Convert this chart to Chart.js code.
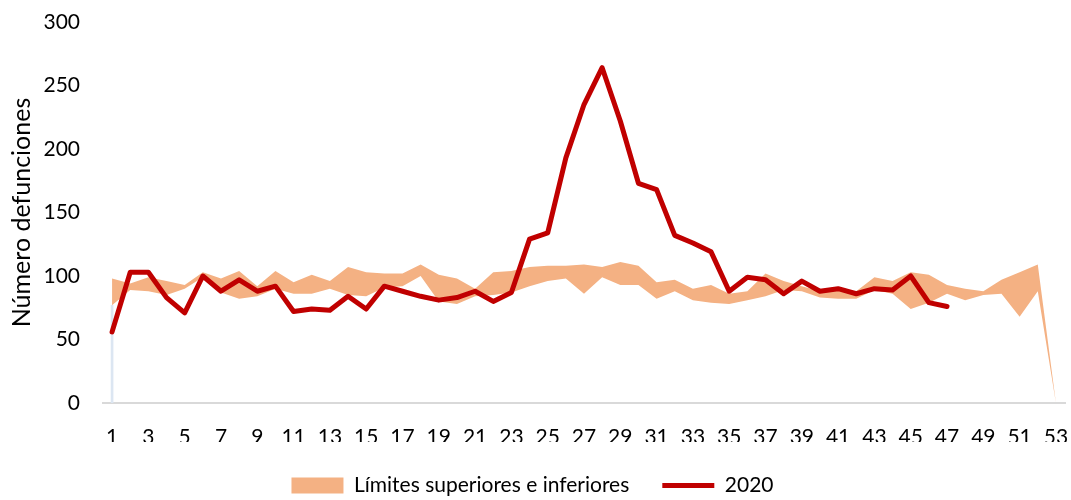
<!DOCTYPE html>
<html>
<head>
<meta charset="utf-8">
<script src="https://cdn.jsdelivr.net/npm/chart.js@4/dist/chart.umd.min.js"></script>
<style>
  html, body { margin: 0; padding: 0; background: #ffffff; }
  #wrap { width: 1071px; height: 500px; position: relative; }
</style>
</head>
<body>
<div id="wrap"><canvas id="c" width="1071" height="500"></canvas></div>
<script>
// ---- Data ----
const weeks = ['1','2','3','4','5','6','7','8','9','10','11','12','13','14','15','16','17','18','19','20',
  '21','22','23','24','25','26','27','28','29','30','31','32','33','34','35','36','37','38','39','40',
  '41','42','43','44','45','46','47','48','49','50','51','52','53'];

const upperLimit = [98, 94, 99, 96, 93, 103, 98, 104, 92, 104, 95, 101, 96, 107, 103, 102, 102, 109, 101, 98,
  90, 103, 104, 107, 108, 108, 109, 107, 111, 108, 95, 97, 90, 93, 86, 88, 102, 96, 92, 88,
  89, 88, 99, 96, 103, 101, 93, 90, 88, 97, 103, 109, 0];

const lowerLimit = [77, 89, 88, 85, 90, 99, 87, 82, 84, 90, 86, 86, 90, 85, 84, 91, 92, 100, 80, 78,
  84, 85, 87, 92, 96, 98, 86, 99, 93, 93, 82, 88, 81, 79, 78, 81, 84, 89, 88, 83,
  82, 82, 89, 86, 74, 79, 86, 81, 85, 86, 68, 88, 0];

const deaths2020 = [56, 103, 103, 83, 71, 100, 88, 97, 88, 92, 72, 74, 73, 84, 74, 92, 88, 84, 81, 83,
  88, 80, 87, 129, 134, 193, 235, 264, 222, 173, 168, 132, 126, 119, 88, 99, 97, 86, 96, 88,
  90, 86, 90, 89, 100, 79, 76];

const yTicks = [0, 50, 100, 150, 200, 250, 300];

const bandLabel = 'Límites superiores e inferiores';
const lineLabel = '2020';
const yTitle = 'Número defunciones';

// ---- Styles ----
const ORANGE = '#F4B183';
const RED = '#C00000';
const PALEBLUE = '#dce6f2';
const FONT = 'Lato, "Open Sans", sans-serif';

const firstEdge = lowerLimit.map((v, i) => (i === 0 ? v : null));

new Chart(document.getElementById('c'), {
  type: 'line',
  data: {
    labels: weeks,
    datasets: [
      {
        label: lineLabel,
        data: deaths2020,
        borderColor: RED,
        backgroundColor: RED,
        borderWidth: 5,
        pointRadius: 0,
        tension: 0,
        fill: false,
        borderJoinStyle: 'round',
        borderCapStyle: 'round',
        order: 0
      },
      {
        label: 'lower',
        data: lowerLimit,
        borderColor: 'rgba(0,0,0,0)',
        borderWidth: 0,
        pointRadius: 0,
        tension: 0,
        fill: false,
        order: 2
      },
      {
        label: bandLabel,
        data: upperLimit,
        borderColor: 'rgba(0,0,0,0)',
        backgroundColor: ORANGE,
        borderWidth: 0,
        pointRadius: 0,
        tension: 0,
        fill: 1,
        order: 1
      },
      {
        type: 'bar',
        label: 'edge',
        data: firstEdge,
        backgroundColor: PALEBLUE,
        barThickness: 2,
        order: 3
      }
    ]
  },
  options: {
    responsive: false,
    animation: false,
    events: [],
    layout: { padding: { top: 22, right: 6, left: 0, bottom: 0 } },
    plugins: {
      tooltip: { enabled: false },
      legend: {
        position: 'bottom',
        maxHeight: 58,
        labels: {
          usePointStyle: true,
          pointStyleWidth: 52,
          boxHeight: 16,
          padding: 33,
          color: '#000',
          font: { family: FONT, size: 21 },
          generateLabels: () => [
            { text: bandLabel, fillStyle: ORANGE, strokeStyle: ORANGE, lineWidth: 0, pointStyle: 'rect', datasetIndex: 2, fontColor: '#000' },
            { text: lineLabel, fillStyle: RED, strokeStyle: RED, lineWidth: 5, pointStyle: 'line', datasetIndex: 0, fontColor: '#000' }
          ]
        }
      }
    },
    scales: {
      x: {
        type: 'category',
        offset: true,
        grid: { display: false, drawTicks: false, offset: true },
        border: { display: true, color: '#d9d9d9', width: 2 },
        ticks: {
          autoSkip: false,
          maxRotation: 0,
          padding: 22,
          color: '#000',
          font: { family: FONT, size: 21 },
          callback: function (val, i) { return i % 2 === 0 ? weeks[i] : ''; }
        },
        afterFit: (s) => { s.height = 39; s.paddingLeft = 0; s.paddingRight = 0; }
      },
      y: {
        min: 0,
        max: 300,
        afterBuildTicks: (s) => { s.ticks = yTicks.map(v => ({ value: v })); },
        grid: { display: false, drawTicks: false },
        border: { display: false },
        ticks: {
          padding: 23,
          color: '#000',
          font: { family: FONT, size: 21 }
        },
        title: {
          display: true,
          text: yTitle,
          color: '#000',
          font: { family: FONT, size: 25 },
          padding: { top: 7, bottom: 0 }
        },
        afterFit: (s) => { s.width = 103; s.paddingTop = 0; s.paddingBottom = 0; }
      }
    }
  }
});
</script>
</body>
</html>
